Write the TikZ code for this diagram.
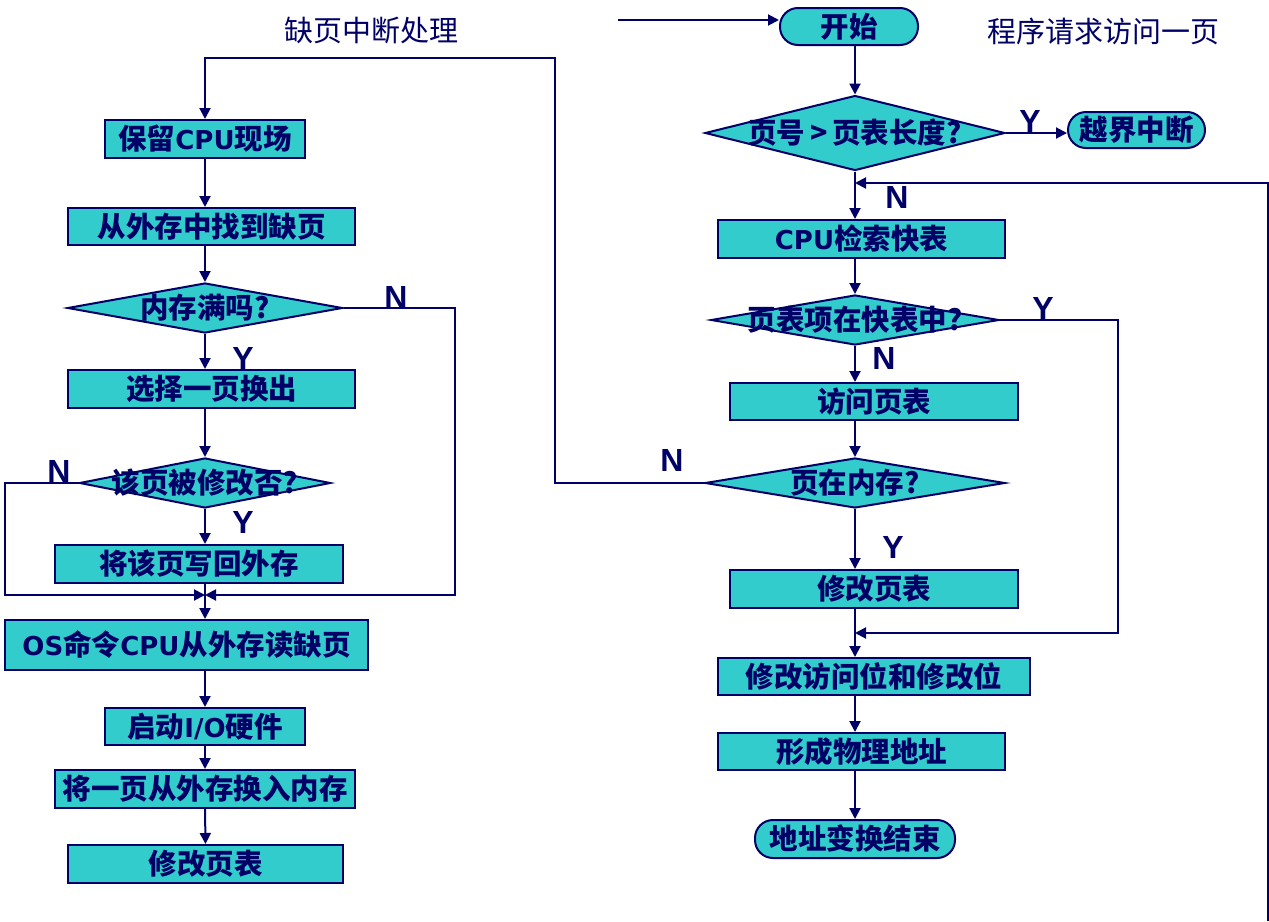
\documentclass[tikz,border=0pt]{standalone}
\usepackage{fontspec}
\newfontfamily\cjk{Noto Sans CJK SC}
\newfontfamily\lab{Liberation Sans}
\newfontfamily\vlat{DejaVu Sans}
\newcommand\lt[1]{{\vlat\fontsize{26}{26}\selectfont #1}}
\usetikzlibrary{arrows.meta,shapes.geometric}
\definecolor{nv}{HTML}{000066}
\definecolor{tq}{HTML}{33CCCC}
\begin{document}
\begin{tikzpicture}[x=1pt,y=-1pt,
 box/.style={draw=nv,fill=tq,line width=2pt,rectangle,inner sep=0pt,text=nv,
   font=\cjk\bfseries\fontsize{28.5}{28.5}\selectfont},
 term/.style={box,rounded corners=18pt},
 dia/.style={draw=nv,fill=tq,line width=2pt,diamond,inner sep=0pt},
 dtext/.style={inner sep=0pt,text=nv,font=\cjk\bfseries\fontsize{28.5}{28.5}\selectfont},
 yn/.style={inner sep=0pt,text=nv,font=\lab\bfseries\fontsize{32}{32}\selectfont},
 ttl/.style={inner sep=0pt,text=nv,font=\cjk\fontsize{29}{29}\selectfont},
 ln/.style={draw=nv,line width=2pt},
 arr/.style={ln,-{Triangle[length=11pt,width=11pt]}}]
\useasboundingbox (0,0) rectangle (1269,921);
% titles
\node[ttl] (t1) at (371,31) {缺页中断处理};
\node[ttl] (t2) at (1103,31) {程序请求访问一页};
% left column
\node[box,minimum width=200pt,minimum height=38pt] (b1) at (205,139) {保留\lt{CPU}现场};
\node[box,minimum width=287pt,minimum height=37pt] (b2) at (211.5,226.5) {从外存中找到缺页};
\node[dia,minimum width=275pt,minimum height=50pt] (d1) at (205,308) {};
\node[box,minimum width=287pt,minimum height=38pt] (b3) at (211.5,389) {选择一页换出};
\node[dia,minimum width=251pt,minimum height=50pt] (d2) at (205,483) {};
\node[box,minimum width=288pt,minimum height=38pt] (b4) at (199,564) {将该页写回外存};
\node[box,minimum width=363pt,minimum height=50pt] (b5) at (186.5,645) {\lt{OS}命令\lt{CPU}从外存读缺页};
\node[box,minimum width=200pt,minimum height=37pt] (b6) at (205,726.5) {启动\lt{I/O}硬件};
\node[box,minimum width=300pt,minimum height=38pt] (b7) at (205,789) {将一页从外存换入内存};
\node[box,minimum width=275pt,minimum height=38pt] (b8) at (205.5,864) {修改页表};
% right column
\node[term,minimum width=138pt,minimum height=37pt] (st) at (849,26.5) {开始};
\node[dia,minimum width=300pt,minimum height=75pt] (d3) at (855,133) {};
\node[term,minimum width=137pt,minimum height=36pt] (oob) at (1136.5,130) {越界中断};
\node[box,minimum width=287pt,minimum height=38pt] (b9) at (861.5,239) {\lt{CPU}检索快表};
\node[dia,minimum width=288pt,minimum height=50pt] (d4) at (855,320) {};
\node[box,minimum width=288pt,minimum height=37pt] (b10) at (874,401.5) {访问页表};
\node[dia,minimum width=300pt,minimum height=50pt] (d5) at (855,483) {};
\node[box,minimum width=288pt,minimum height=38pt] (b11) at (874,589) {修改页表};
\node[box,minimum width=312pt,minimum height=37pt] (b12) at (874,676.5) {修改访问位和修改位};
\node[box,minimum width=287pt,minimum height=37pt] (b13) at (861.5,751.5) {形成物理地址};
\node[term,minimum width=200pt,minimum height=38pt] (en) at (855,839) {地址变换结束};
% coordinates
\coordinate (j1) at (205,595);
\coordinate (c1) at (555,483);
\coordinate (c2) at (555,58);
\coordinate (c3) at (205,58);
\coordinate (c5) at (455,595);
\coordinate (c6) at (5,595);
\coordinate (in) at (618,20);
\coordinate (r0) at (1268,921);
\coordinate (r1) at (1268,183);
\coordinate (r2) at (1118,633);
% left connectors
\draw[arr] (d5.west) -- (c1) -- (c2) -- (c3) -- (b1.north);
\draw[arr] (b1.south) -- (b1 |- b2.north);
\draw[arr] (d1 |- b2.south) -- (d1.north);
\draw[arr] (d1.south) -- (d1 |- b3.north);
\draw[arr] (d2 |- b3.south) -- (d2.north);
\draw[arr] (d2.south) -- (d2 |- b4.north);
\draw[arr] (j1 |- b4.south) -- (j1 |- b5.north);
\draw[arr] (d1.east) -| (c5) -- (j1);
\draw[arr] (d2.west) -| (c6) -- (j1);
\draw[arr] (b6 |- b5.south) -- (b6.north);
\draw[arr] (b6.south) -- (b7.north);
\draw[arr] (b7.south) -- (b8.north);
% right connectors
\draw[arr] (in) -- (in -| st.west);
\draw[arr] (d3 |- st.south) -- (d3.north);
\draw[arr] (d3.east) -- (oob.west |- d3);
\draw[arr] (d3.south) -- (d3 |- b9.north);
\draw[arr] (r0) -- (r1) -- (d3 |- r1);
\draw[arr] (d4 |- b9.south) -- (d4.north);
\draw[arr] (d4.south) -- (d4 |- b10.north);
\draw[arr] (d4.east) -| (r2) -- (d4 |- r2);
\draw[arr] (d5 |- b10.south) -- (d5.north);
\draw[arr] (d5.south) -- (d5 |- b11.north);
\draw[arr] (d5 |- b11.south) -- (d5 |- b12.north);
\draw[arr] (d5 |- b12.south) -- (d5 |- b13.north);
\draw[arr] (d5 |- b13.south) -- (en.north);
% diamond texts
\node[dtext] (d1t) at (d1) {内存满吗?};
\node[dtext] (d2t) at (d2) {该页被修改否?};
\node[dtext] (d3t) at (d3) {页号\,>\,页表长度?};
\node[dtext] (d4t) at (d4) {页表项在快表中?};
\node[dtext] (d5t) at (d5) {页在内存?};
% Y/N labels
\node[yn] (n1) at (396,297) {N};
\node[yn] (y1) at (243,358) {Y};
\node[yn] (n2) at (59,471) {N};
\node[yn] (y2) at (243,522) {Y};
\node[yn] (y3) at (1030,121) {Y};
\node[yn] (n3) at (897,197) {N};
\node[yn] (y4) at (1043,308) {Y};
\node[yn] (n4) at (884,358) {N};
\node[yn] (n5) at (672,460) {N};
\node[yn] (y5) at (893,547) {Y};
\end{tikzpicture}
\end{document}
